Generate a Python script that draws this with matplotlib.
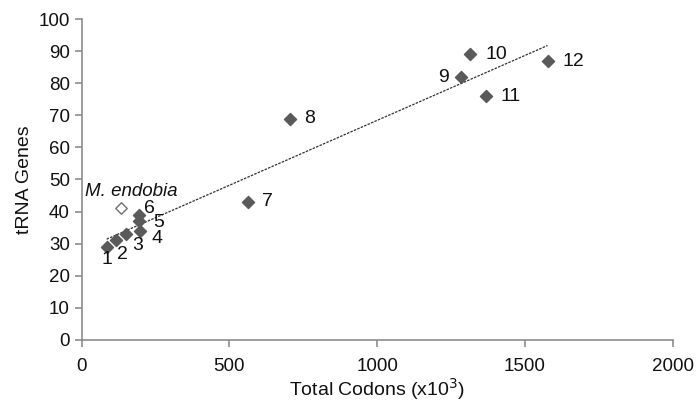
import numpy as np
import matplotlib
matplotlib.use('Agg')
import matplotlib.pyplot as plt

plt.rcParams['font.family'] = ['Liberation Sans', 'DejaVu Sans']

# total codons (x10^3) and tRNA genes, numbered genomes
codons = [85, 116, 152, 197, 194, 194, 563, 705, 1283, 1314, 1368, 1577]
trna = [29, 31, 33, 34, 37, 39, 43, 69, 82, 89, 76, 87]
labels = ['1', '2', '3', '4', '5', '6', '7', '8', '9', '10', '11', '12']
# label offsets in pixels (dx, dy)
offsets = [(0, -13), (7, -14), (11, -11), (17, -8), (20, -1), (11, 6),
           (20, 0), (20, 0), (-17, -1), (27, 0), (25, 0), (26, -1)]

endobia_codons = 135
endobia_trna = 41

fig = plt.figure(figsize=(6.97, 4.08), dpi=100)
ax = fig.add_axes([0.117, 0.1667, 0.848, 0.7867])

ax.scatter(codons, trna, marker='D', s=38, color='#5a5a5a', zorder=3)
ax.scatter([endobia_codons], [endobia_trna], marker='D', s=34,
           facecolor='white', edgecolor='#707070', linewidth=1, zorder=3)

# linear trend line over numbered genomes
k, b = np.polyfit(codons, trna, 1)
xx = np.array([min(codons), max(codons)])
ax.plot(xx, k * xx + b, color='#303030', linestyle=(0, (2, 1)), linewidth=0.9, zorder=2)

for x, y, t, (dx, dy) in zip(codons, trna, labels, offsets):
    ax.annotate(t, (x, y), xytext=(dx, dy), textcoords='offset pixels',
                ha='center', va='center', fontsize=14, color='#111111')
ax.annotate('M. endobia', (endobia_codons, endobia_trna), xytext=(10, 17),
            textcoords='offset pixels', ha='center', va='center',
            fontsize=13.5, style='italic', color='#111111')

ax.set_xlim(0, 2000)
ax.set_ylim(0, 100)
ax.set_xticks([0, 500, 1000, 1500, 2000])
ax.set_yticks(range(0, 101, 10))
for s in ['top', 'right']:
    ax.spines[s].set_visible(False)
for s in ['left', 'bottom']:
    ax.spines[s].set_color('#8c8c8c')
    ax.spines[s].set_linewidth(1.2)
ax.tick_params(colors='#8c8c8c', labelcolor='#111111', labelsize=13.5, length=5, width=1.2)
ax.tick_params(axis='x', pad=8)

ax.set_xlabel('Total Codons (x10$^3$)', fontsize=14, color='#111111', labelpad=1)
ax.set_ylabel('tRNA Genes', fontsize=14, color='#111111', labelpad=4)

fig.savefig('out.png', dpi=100)
